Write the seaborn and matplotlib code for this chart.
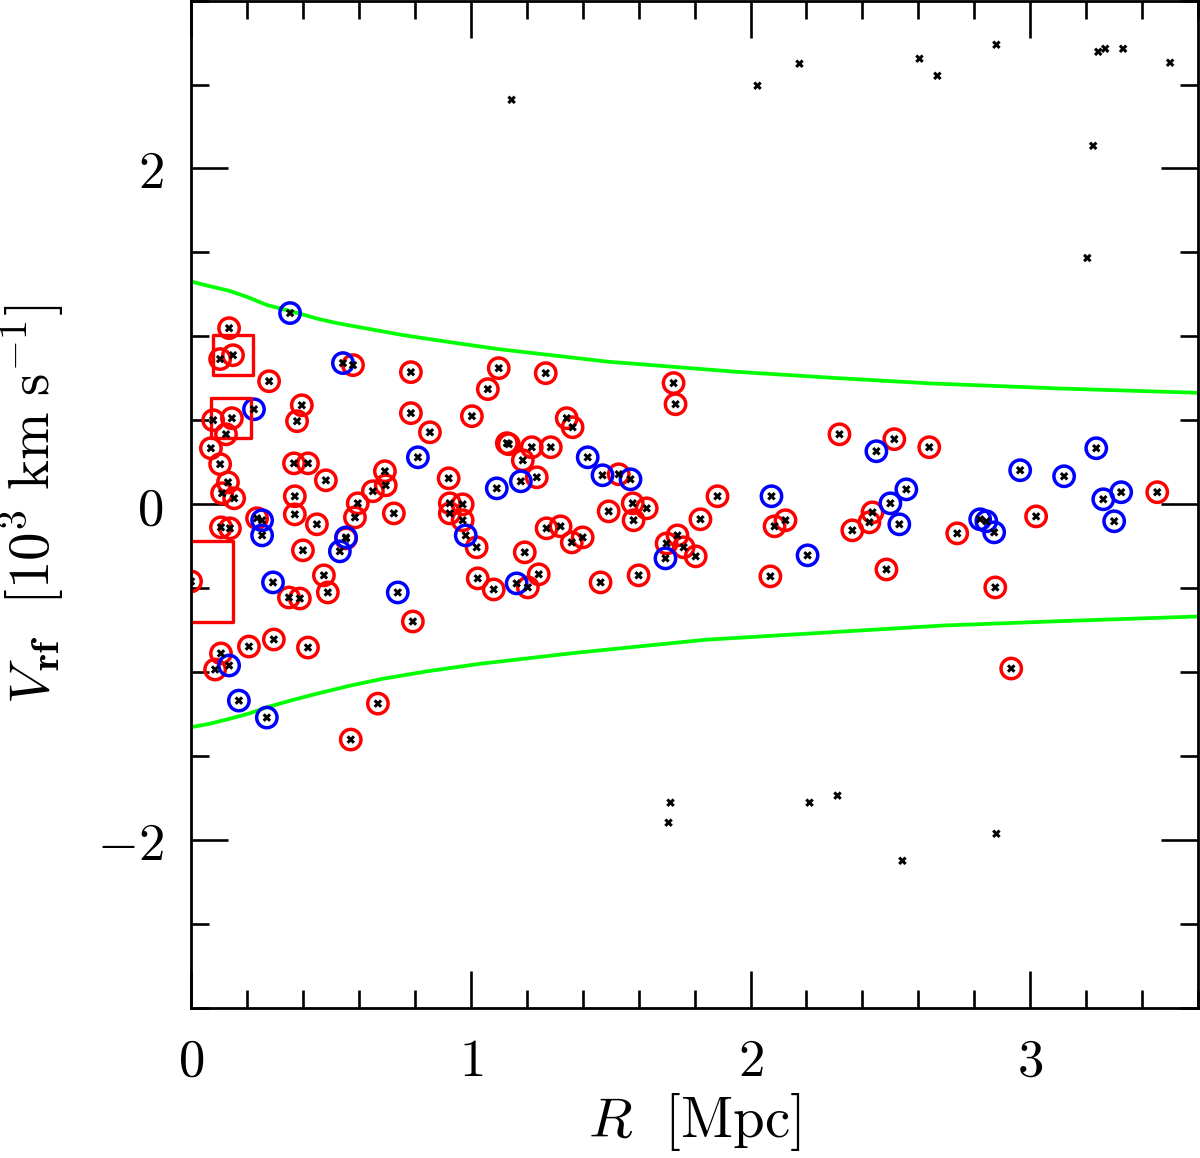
import matplotlib
matplotlib.use("Agg")

import pandas as pd
import matplotlib.pyplot as plt
from matplotlib.ticker import MultipleLocator, FuncFormatter
import seaborn as sns

# =========================
# DATA (R in Mpc, V_rf in 10^3 km/s)
# =========================
red_r = [0.136, 0.104, 0.150, 0.279, 0.579, 0.786, 0.079, 0.146, 0.125, 0.396,
         0.379, 0.786, 0.854, 0.071, 0.104, 0.368, 0.418, 0.693, 0.132, 0.111,
         0.154, 0.482, 0.650, 0.696, 0.596, 0.586, 0.725, 0.371, 0.371, 0.450,
         0.236, 0.107, 0.139, 0.400, 0.554, 0.000, 0.475, 0.489, 0.350, 0.389,
         0.793, 0.207, 0.296, 0.418, 0.107, 0.086, 0.668, 0.571, 1.100, 1.268,
         1.061, 1.004, 1.725, 1.732, 1.343, 1.364, 1.129, 1.136, 1.218, 1.286,
         1.186, 1.236, 1.529, 0.921, 1.882, 0.925, 0.971, 0.925, 0.971, 1.021,
         1.493, 1.579, 1.629, 1.582, 1.821, 1.271, 1.321, 1.361, 1.400, 1.193,
         1.739, 1.700, 1.761, 1.804, 1.025, 1.082, 1.204, 1.243, 1.464, 1.600,
         2.318, 2.514, 2.639, 2.086, 2.125, 2.071, 2.364, 2.436, 2.425, 2.486,
         2.739, 2.875, 3.021, 3.454, 2.932]
red_v = [1.049, 0.865, 0.888, 0.733, 0.829, 0.787, 0.501, 0.513, 0.417, 0.590,
         0.495, 0.543, 0.429, 0.334, 0.239, 0.244, 0.244, 0.197, 0.131, 0.066,
         0.036, 0.143, 0.078, 0.113, 0.006, -0.078, -0.054, 0.048, -0.060, -0.119,
         -0.083, -0.137, -0.143, -0.274, -0.203, -0.459, -0.423, -0.525, -0.555, -0.561,
         -0.698, -0.847, -0.805, -0.853, -0.888, -0.984, -1.187, -1.401, 0.811, 0.781,
         0.686, 0.525, 0.722, 0.596, 0.513, 0.459, 0.364, 0.358, 0.340, 0.340,
         0.262, 0.161, 0.179, 0.155, 0.048, 0.006, 0.000, -0.054, -0.095, -0.256,
         -0.042, 0.006, -0.024, -0.095, -0.089, -0.143, -0.131, -0.227, -0.197, -0.286,
         -0.185, -0.233, -0.256, -0.310, -0.441, -0.507, -0.495, -0.417, -0.465, -0.423,
         0.417, 0.388, 0.340, -0.131, -0.095, -0.429, -0.155, -0.048, -0.107, -0.388,
         -0.173, -0.495, -0.072, 0.072, -0.978]

blue_r = [0.354, 0.543, 0.225, 0.811, 0.254, 0.254, 0.554, 0.532, 0.293, 0.739,
          0.136, 0.171, 0.271, 1.418, 1.471, 1.571, 1.179, 1.093, 0.982, 1.696,
          1.164, 2.450, 2.075, 2.204, 2.500, 2.557, 2.532, 2.821, 2.843, 2.871,
          2.964, 3.121, 3.236, 3.261, 3.325, 3.300]
blue_v = [1.139, 0.841, 0.566, 0.280, -0.095, -0.185, -0.197, -0.280, -0.465, -0.525,
          -0.960, -1.169, -1.270, 0.280, 0.173, 0.149, 0.137, 0.095, -0.185, -0.322,
          -0.471, 0.316, 0.048, -0.304, 0.006, 0.089, -0.119, -0.089, -0.101, -0.167,
          0.203, 0.167, 0.334, 0.030, 0.072, -0.101]

# galaxies outside the caustics (no ring)
bare_r = [1.146, 2.025, 2.175, 2.604, 2.668, 2.879, 3.243, 3.268, 3.332, 3.500,
          3.225, 3.204, 1.714, 1.707, 2.211, 2.311, 2.543, 2.879]
bare_v = [2.409, 2.493, 2.624, 2.654, 2.552, 2.737, 2.695, 2.713, 2.713, 2.630,
          2.135, 1.467, -1.777, -1.896, -1.777, -1.735, -2.123, -1.962]

# groups (squares)
group_r = [0.150, 0.143, 0.004]
group_v = [0.890, 0.513, -0.459]

# caustic curves
upper_r = [0.000, 0.064, 0.136, 0.204, 0.271, 0.364, 0.457, 0.525, 0.757, 0.916,
           1.100, 1.493, 1.952, 2.296, 2.643, 3.102, 3.600]
upper_v = [1.327, 1.300, 1.272, 1.233, 1.187, 1.147, 1.103, 1.078, 1.008, 0.968,
           0.924, 0.849, 0.789, 0.753, 0.720, 0.690, 0.664]
lower_r = [0.000, 0.064, 0.136, 0.204, 0.271, 0.364, 0.457, 0.571, 0.686, 0.846,
           1.032, 1.377, 1.836, 2.296, 2.688, 3.102, 3.600]
lower_v = [-1.327, -1.308, -1.278, -1.248, -1.209, -1.165, -1.125, -1.079, -1.039, -0.994,
           -0.950, -0.884, -0.807, -0.761, -0.722, -0.696, -0.668]

# =========================
# STYLE
# =========================
sns.set_style("ticks")
plt.rcParams["mathtext.fontset"] = "cm"
plt.rcParams["font.family"] = ["DejaVu Serif"]
plt.rcParams["text.color"] = "black"
plt.rcParams["axes.labelcolor"] = "black"

group_sizes = [830, 830, 3400]

fig = plt.figure(figsize=(12, 11.58), dpi=100)
ax = fig.add_axes([0.1592, 0.1295, 0.8392, 0.8700])

red_df = pd.DataFrame({"R": red_r, "V": red_v})
blue_df = pd.DataFrame({"R": blue_r, "V": blue_v})
all_df = pd.DataFrame({"R": red_r + blue_r + bare_r, "V": red_v + blue_v + bare_v})
group_df = pd.DataFrame({"R": group_r, "V": group_v, "size": group_sizes})
upper_df = pd.DataFrame({"R": upper_r, "V": upper_v})
lower_df = pd.DataFrame({"R": lower_r, "V": lower_v})

# caustics
for cdf in (upper_df, lower_df):
    sns.lineplot(data=cdf, x="R", y="V", ax=ax, color="#00ff00", lw=2.7,
                 sort=False, estimator=None, zorder=1,
                 solid_joinstyle="round", solid_capstyle="round")

# rings
sns.scatterplot(data=red_df, x="R", y="V", ax=ax, marker="o", s=215,
                facecolor="none", edgecolor="#ff0000", linewidth=2.5, zorder=2)
sns.scatterplot(data=blue_df, x="R", y="V", ax=ax, marker="o", s=215,
                facecolor="none", edgecolor="#0000ff", linewidth=2.5, zorder=2)

# groups
sns.scatterplot(data=group_df, x="R", y="V", ax=ax, marker="s", size="size",
                sizes=(830, 3400), facecolor="none", edgecolor="#ff0000",
                linewidth=2.4, zorder=2, legend=False)

# galaxies
sns.scatterplot(data=all_df, x="R", y="V", ax=ax, marker="X", s=38,
                color="black", edgecolor="none", zorder=3)

# =========================
# AXES
# =========================
ax.set_xlim(0, 3.6)
ax.set_ylim(-3, 3)
ax.xaxis.set_major_locator(MultipleLocator(1))
ax.xaxis.set_minor_locator(MultipleLocator(0.2))
ax.yaxis.set_major_locator(MultipleLocator(2))
ax.yaxis.set_minor_locator(MultipleLocator(0.5))
fmt = FuncFormatter(lambda v, p: "$%d$" % round(v))
ax.xaxis.set_major_formatter(fmt)
ax.yaxis.set_major_formatter(fmt)

ax.tick_params(which="both", direction="in", top=True, right=True,
               width=1.9, colors="black", labelsize=38)
ax.tick_params(which="major", length=26.5)
ax.tick_params(which="minor", length=13)
ax.tick_params(axis="x", which="major", pad=20)
ax.tick_params(axis="y", which="major", pad=20)
for sp in ax.spines.values():
    sp.set_linewidth(2.0)
    sp.set_color("black")

ax.set_xlabel(r"$R\ \ [\mathrm{Mpc}]$", fontsize=41, labelpad=3, color="black")
ax.set_ylabel(r"$V_{\mathbf{rf}}\ \ [10^3\ \mathrm{km\ s^{-1}}]$", fontsize=41,
              labelpad=22, color="black")

fig.savefig("out.png", dpi=100)
